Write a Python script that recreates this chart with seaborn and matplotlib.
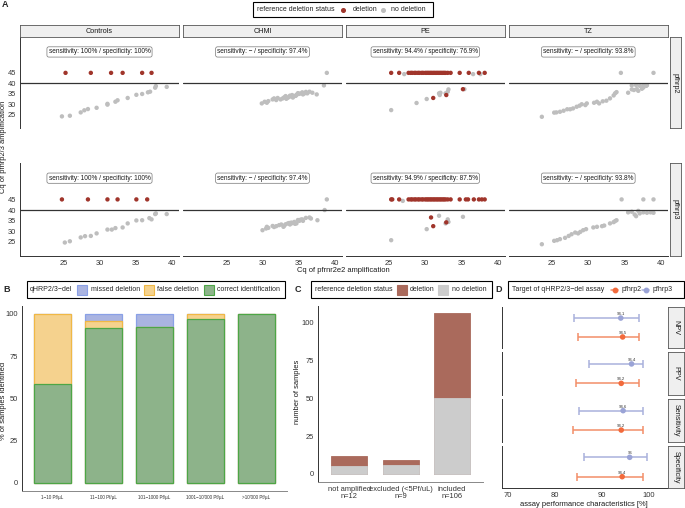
import numpy as np
import pandas as pd
import matplotlib
matplotlib.use("Agg")
import matplotlib.pyplot as plt
import seaborn as sns
from matplotlib.patches import Rectangle
from matplotlib.lines import Line2D

# ---------------- Panel A data (Cq of pfrnr2e2 vs Cq of pfhrp2/3) ----------------
ctrl2_del_x = [25.3, 28.8, 31.6, 33.2, 35.9, 37.2]
ctrl2_del_y = [45, 45, 45, 45, 45, 45]
ctrl2_nod_x = [24.8, 25.9, 27.4, 27.9, 28.4, 29.6, 31.1, 31.1, 32.2, 32.5, 33.9, 35.1, 35.9, 36.7, 37.0, 37.7, 37.8, 39.3]
ctrl2_nod_y = [24.2, 24.5, 26.1, 27.1, 27.7, 28.3, 30.2, 29.8, 31.2, 31.9, 33.0, 34.5, 34.9, 35.7, 36.0, 37.9, 38.7, 38.3]

ctrl3_del_x = [24.8, 28.4, 31.1, 32.5, 35.1, 36.6]
ctrl3_del_y = [45, 45, 45, 45, 45, 45]
ctrl3_nod_x = [25.2, 25.9, 27.4, 28.0, 28.8, 29.6, 31.1, 31.7, 32.2, 33.2, 33.9, 35.1, 35.9, 36.9, 37.2, 37.7, 37.8, 39.3]
ctrl3_nod_y = [24.7, 25.3, 27.1, 27.7, 27.8, 29.0, 30.8, 30.8, 31.5, 31.8, 33.7, 35.1, 35.2, 36.2, 35.6, 38.1, 38.4, 38.1]

chmi2_del_x = []
chmi2_del_y = []
chmi2_nod_x = [29.9, 30.3, 30.6, 31.4, 31.9, 32.1, 32.5, 33.0, 33.2, 33.5, 33.8, 34.1, 34.4, 34.7, 35.0, 35.5,
               35.6, 36.2, 36.5, 36.9, 37.5, 38.5, 38.9, 30.8, 31.6, 32.8, 33.3, 33.7, 34.2, 34.6, 34.9, 35.2, 35.8, 36.0]
chmi2_nod_y = [30.4, 31.2, 30.7, 32.3, 32.0, 33.0, 32.3, 33.3, 33.9, 33.1, 34.1, 34.4, 33.9, 34.5, 34.9, 35.7,
               34.7, 35.2, 36.0, 35.5, 34.7, 39.0, 45.0, 31.5, 32.8, 32.8, 32.6, 33.5, 33.2, 34.0, 35.3, 35.1, 35.2, 35.9]

chmi3_del_x = []
chmi3_del_y = []
chmi3_nod_x = [30.0, 30.5, 30.6, 31.4, 31.9, 32.3, 32.9, 33.2, 33.5, 33.8, 34.1, 34.4, 34.7, 35.1, 35.5, 35.6,
               36.5, 36.7, 37.6, 38.6, 38.9, 30.8, 31.6, 32.6, 33.0, 33.7, 34.0, 34.5, 34.9, 35.3, 36.0]
chmi3_nod_y = [30.5, 31.3, 32.1, 32.5, 32.4, 32.9, 32.1, 33.3, 33.7, 33.2, 33.8, 34.4, 33.7, 34.9, 35.6, 34.9,
               36.5, 36.0, 35.2, 40.0, 45.0, 31.6, 32.0, 33.2, 32.6, 33.9, 34.1, 33.5, 35.3, 35.5, 36.3]

pe2_del_x = [25.3, 26.4, 27.7, 28.0, 28.2, 28.5, 28.7, 29.0, 29.2, 29.5, 29.7, 30.0, 30.2, 30.4, 30.6, 30.8,
             31.0, 31.2, 31.4, 31.6, 31.8, 32.0, 32.2, 32.4, 32.6, 32.8, 33.1, 33.5, 34.75, 36.0, 37.4, 38.2,
             31.1, 32.9, 35.2]
pe2_del_y = [45, 45, 45, 45, 45, 45, 45, 45, 45, 45, 45, 45, 45, 45, 45, 45,
             45, 45, 45, 45, 45, 45, 45, 45, 45, 45, 45, 45, 45, 45, 45, 45,
             33.0, 34.4, 37.2]
pe2_nod_x = [27.1, 36.6, 37.6, 25.3, 28.8, 30.2, 31.9, 32.0, 32.1, 32.8, 33.1, 33.2, 35.4]
pe2_nod_y = [44.4, 44.4, 44.4, 27.2, 30.6, 32.5, 35.2, 34.4, 35.5, 35.2, 36.0, 37.1, 37.2]

pe3_del_x = [25.3, 25.45, 26.4, 27.7, 28.0, 28.2, 28.5, 28.7, 29.0, 29.2, 29.5, 29.7, 30.0, 30.2, 30.4, 30.6,
             30.8, 31.0, 31.2, 31.4, 31.6, 31.8, 32.0, 32.2, 32.4, 32.6, 32.8, 33.1, 33.5, 34.75, 35.6, 35.9,
             36.7, 37.4, 37.8, 38.2, 30.8, 31.1, 32.9]
pe3_del_y = [45, 45, 45, 45, 45, 45, 45, 45, 45, 45, 45, 45, 45, 45, 45, 45,
             45, 45, 45, 45, 45, 45, 45, 45, 45, 45, 45, 45, 45, 45, 45, 45,
             45, 45, 45, 45, 36.5, 32.4, 34.2]
pe3_nod_x = [26.9, 25.3, 30.2, 31.9, 32.8, 33.1, 33.2, 35.2]
pe3_nod_y = [44.3, 25.8, 31.0, 37.3, 33.7, 35.6, 34.4, 36.8]

tz2_del_x = []
tz2_del_y = []
tz2_nod_x = [23.6, 25.3, 25.6, 26.1, 26.6, 27.1, 27.5, 27.9, 28.4, 28.8, 29.1, 29.6, 29.8, 30.8, 31.2, 31.5,
             32.0, 32.5, 33.0, 33.5, 33.7, 33.9, 34.5, 35.5, 36.0, 36.3, 36.7, 36.9, 37.4, 37.6, 38.0, 38.1,
             39.0, 36.0, 36.6, 37.1, 37.6]
tz2_nod_y = [24.0, 26.0, 26.1, 26.4, 26.9, 27.6, 27.6, 28.0, 28.8, 29.3, 30.0, 29.6, 30.4, 30.7, 31.2, 30.4,
             31.4, 31.7, 32.8, 34.2, 35.2, 35.8, 45.0, 35.5, 37.1, 36.8, 37.2, 36.4, 37.4, 38.0, 38.8, 39.1,
             45.0, 39.0, 39.1, 38.8, 39.1]

tz3_del_x = []
tz3_del_y = []
tz3_nod_x = [23.6, 25.3, 25.7, 26.1, 26.8, 27.3, 27.7, 28.2, 28.6, 28.9, 29.3, 29.7, 30.7, 31.2, 31.9, 32.2,
             33.0, 33.5, 33.7, 33.9, 34.6, 35.5, 36.0, 36.4, 36.9, 37.1, 37.6, 38.1, 38.6, 39.0, 37.6, 39.0, 36.6]
tz3_nod_y = [23.9, 25.5, 25.8, 26.3, 26.9, 27.8, 28.6, 29.4, 29.0, 29.7, 30.5, 31.0, 31.8, 32.1, 32.4, 32.7,
             33.7, 34.3, 34.8, 35.2, 45.0, 38.9, 39.2, 37.9, 39.6, 38.4, 38.9, 38.7, 38.9, 38.7, 45.0, 45.0, 37.1]

a_panels = ["Controls", "CHMI", "PE", "TZ"]
a_genes = ["pfhrp2", "pfhrp3"]
ann_hrp2 = ["sensitivity: 100% / specificity: 100%", "sensitivity: \u2212 / specificity: 97.4%",
            "sensitivity: 94.4% / specificity: 76.9%", "sensitivity: \u2212 / specificity: 93.8%"]
ann_hrp3 = ["sensitivity: 100% / specificity: 100%", "sensitivity: \u2212 / specificity: 97.4%",
            "sensitivity: 94.9% / specificity: 87.5%", "sensitivity: \u2212 / specificity: 93.8%"]
a_xticks = [25, 30, 35, 40]
a_yticks = [25, 30, 35, 40, 45]

# ---------------- Panel B data ----------------
b_cats = ["1\u221210 Pf/\u00b5L", "11\u2212100 Pf/\u00b5L", "101\u22121000 Pf/\u00b5L",
          "1001\u221210'000 Pf/\u00b5L", ">10'000 Pf/\u00b5L"]
b_correct = [58.3, 91.5, 92.5, 96.9, 100.0]
b_false = [41.7, 4.25, 0.0, 3.1, 0.0]
b_missed = [0.0, 4.25, 7.5, 0.0, 0.0]

# ---------------- Panel C data ----------------
c_cats = ["not amplified\nn=12", "excluded (<5Pf/uL)\nn=9", "included\nn=106"]
c_nodel = [5, 6, 50]
c_del = [7, 3, 56]

# ---------------- Panel D data ----------------
d_metrics = ["NPV", "PPV", "Sensitivity", "Specificity"]
d_hrp3_est = [94.1, 96.4, 94.6, 96.0]
d_hrp3_lo = [84.2, 87.3, 85.2, 86.3]
d_hrp3_hi = [98.0, 98.9, 98.9, 99.6]
d_hrp2_est = [94.5, 94.2, 94.2, 94.4]
d_hrp2_lo = [85.0, 84.6, 84.0, 84.7]
d_hrp2_hi = [98.0, 98.0, 98.9, 98.9]

# ---------------- style ----------------
sns.set_theme(style="white")
plt.rcParams["font.family"] = ["Liberation Sans", "DejaVu Sans"]
plt.rcParams["axes.linewidth"] = 0.7

DEL_COL = "#A0352B"
NOD_COL = "#BEBEBE"
TXT = "#333333"
FS = 5.0
TICK_FS = 5.4

W, H = 685, 508
fig = plt.figure(figsize=(W / 100, H / 100), dpi=100)


def fx(x):
    return x / W


def fy(y):
    return 1 - y / H


def add_ax(l, t, r, b):
    return fig.add_axes([l / W, 1 - b / H, (r - l) / W, (b - t) / H])


def ftext(x, y, s, **kw):
    kw.setdefault("fontsize", FS)
    kw.setdefault("va", "center")
    fig.text(fx(x), fy(y), s, **kw)


def fbox(l, t, r, b, ec="black", fc="none", lw=0.8):
    fig.add_artist(Rectangle((fx(l), fy(b)), (r - l) / W, (b - t) / H, transform=fig.transFigure,
                             fill=(fc != "none"), facecolor=fc, edgecolor=ec, linewidth=lw))


def strip(l, t, r, b, text, rot=0):
    a = add_ax(l, t, r, b)
    a.set_facecolor("#EFEFEF")
    for s in a.spines.values():
        s.set_color("#555555")
        s.set_linewidth(0.6)
        s.set_visible(True)
    a.set_xticks([])
    a.set_yticks([])
    a.text(0.5, 0.5, text, ha="center", va="center", rotation=rot, fontsize=FS + 0.2,
           color="#1A1A1A", transform=a.transAxes)
    return a


def style_axes(ax, left=True, bottom=True):
    for s in ["top", "right"]:
        ax.spines[s].set_visible(False)
    ax.spines["left"].set_visible(left)
    ax.spines["bottom"].set_visible(bottom)
    for s in ["left", "bottom"]:
        ax.spines[s].set_color("#333333")
        ax.spines[s].set_linewidth(0.7)
    ax.tick_params(axis="both", length=2, width=0.5, color="#333333", labelsize=TICK_FS,
                   labelcolor=TXT, pad=1)
    ax.set_xlabel("")
    ax.set_ylabel("")


# ================= Panel A =================
A_data = {
    ("Controls", "pfhrp2"): (ctrl2_del_x, ctrl2_del_y, ctrl2_nod_x, ctrl2_nod_y),
    ("Controls", "pfhrp3"): (ctrl3_del_x, ctrl3_del_y, ctrl3_nod_x, ctrl3_nod_y),
    ("CHMI", "pfhrp2"): (chmi2_del_x, chmi2_del_y, chmi2_nod_x, chmi2_nod_y),
    ("CHMI", "pfhrp3"): (chmi3_del_x, chmi3_del_y, chmi3_nod_x, chmi3_nod_y),
    ("PE", "pfhrp2"): (pe2_del_x, pe2_del_y, pe2_nod_x, pe2_nod_y),
    ("PE", "pfhrp3"): (pe3_del_x, pe3_del_y, pe3_nod_x, pe3_nod_y),
    ("TZ", "pfhrp2"): (tz2_del_x, tz2_del_y, tz2_nod_x, tz2_nod_y),
    ("TZ", "pfhrp3"): (tz3_del_x, tz3_del_y, tz3_nod_x, tz3_nod_y),
}
frames = []
for (p, g), (dx, dy, nx, ny) in A_data.items():
    frames.append(pd.DataFrame({"panel": p, "gene": g, "x": nx, "y": ny, "status": "no deletion"}))
    if len(dx):
        frames.append(pd.DataFrame({"panel": p, "gene": g, "x": dx, "y": dy, "status": "deletion"}))
dfA = pd.concat(frames, ignore_index=True)

cols_px = [(20, 179), (183, 342), (345.5, 505), (508.5, 668)]
rows_px = [(37.3, 128.3), (163.3, 255.7)]
anns = [ann_hrp2, ann_hrp3]

for r, g in enumerate(a_genes):
    for c, p in enumerate(a_panels):
        ax = add_ax(cols_px[c][0], rows_px[r][0], cols_px[c][1], rows_px[r][1])
        sub = dfA[(dfA.panel == p) & (dfA.gene == g)]
        sub = pd.concat([sub[sub.status == "no deletion"], sub[sub.status == "deletion"]])
        sns.scatterplot(data=sub, x="x", y="y", hue="status",
                        palette={"deletion": DEL_COL, "no deletion": NOD_COL},
                        s=10, linewidth=0, legend=False, ax=ax)
        ax.axhline(40, color="#333333", lw=0.9)
        ax.set_xlim(19, 41)
        ax.set_ylim(18.5, 62)
        ax.text(30, 55, anns[r][c], ha="center", va="center", fontsize=4.7, color="#1A1A1A",
                bbox=dict(boxstyle="round,pad=0.25,rounding_size=0.3", fc="white", ec="#777777", lw=0.5))
        style_axes(ax, left=(c == 0), bottom=(r == 1))
        ax.set_facecolor("none")
        if c == 0:
            ax.set_yticks(a_yticks)
        else:
            ax.set_yticks([])
        if r == 1:
            ax.set_xticks(a_xticks)
        else:
            ax.set_xticks([])
        if r == 0:
            strip(cols_px[c][0], 25, cols_px[c][1], 37.3, p)
    strip(669.5, rows_px[r][0], 681.5, rows_px[r][1], g, rot=-90)

ftext(3.5, 147, "Cq of pfhrp2/3 amplification", rotation=90, ha="center", color="#1A1A1A", fontsize=5.4)
ftext(343, 271, "Cq of pfrnr2e2 amplification", ha="center", color="#1A1A1A", fontsize=5.4)
ftext(2, 4.5, "A", fontsize=6.5, fontweight="bold", ha="left")

# legend A
fbox(253.3, 1.7, 432.7, 17.3)
ftext(256.7, 9.5, "reference deletion status", ha="left")
fig.add_artist(Line2D([fx(343.3)], [fy(9.5)], marker="o", ms=2.6, color=DEL_COL, lw=0,
                      transform=fig.transFigure))
ftext(352.7, 9.5, "deletion", ha="left")
fig.add_artist(Line2D([fx(382.7)], [fy(9.5)], marker="o", ms=2.6, color=NOD_COL, lw=0,
                      transform=fig.transFigure))
ftext(390.7, 9.5, "no deletion", ha="left")

# ================= Panel B =================
GR_FC, GR_EC = "#8DB38A", "#4DA646"
OR_FC, OR_EC = "#F5D28E", "#F0B845"
BL_FC, BL_EC = "#AAB4E1", "#8AA0E6"

axB = add_ax(21.7, 305.5, 287, 491)
cum_false = [a + b for a, b in zip(b_correct, b_false)]
cum_missed = [a + b for a, b in zip(cum_false, b_missed)]
for vals, fc, ec in [(cum_missed, BL_FC, BL_EC), (cum_false, OR_FC, OR_EC), (b_correct, GR_FC, GR_EC)]:
    sns.barplot(x=b_cats, y=vals, color=fc, edgecolor=ec, linewidth=0.9, width=0.72,
                saturation=1, errorbar=None, ax=axB)
axB.set_xlim(-0.6, 4.6)
axB.set_ylim(-4.8, 105)
axB.set_yticks([0, 25, 50, 75, 100])
style_axes(axB)
axB.tick_params(axis="x", labelsize=3.3)
axB.spines["bottom"].set_color("#888888")
ftext(3.5, 401, "% of samples identified", rotation=90, ha="center", color="#1A1A1A", fontsize=5.4)
ftext(3.3, 290, "B", fontsize=6.5, fontweight="bold", ha="left")

fbox(26.7, 281, 285, 298.3)
ftext(30, 289.7, "qHRP2/3\u2212del", ha="left")
for (l, fc, ec, lab, tx) in [(77.3, BL_FC, BL_EC, "missed deletion", 90.7),
                             (144, OR_FC, OR_EC, "false deletion", 157.3),
                             (204, GR_FC, GR_EC, "correct identification", 217.3)]:
    fbox(l, 285, l + 10, 295, ec=ec, fc=fc, lw=0.8)
    ftext(tx, 289.7, lab, ha="left")

# ================= Panel C =================
BR_FC = "#AA6A5C"
GY_FC = "#CCCCCC"
axC = add_ax(318.3, 305.7, 483, 482)
c_total = [a + b for a, b in zip(c_nodel, c_del)]
sns.barplot(x=c_cats, y=c_total, color=BR_FC, edgecolor=BR_FC, linewidth=0.6, width=0.705,
            saturation=1, errorbar=None, ax=axC)
sns.barplot(x=c_cats, y=c_nodel, color=GY_FC, edgecolor=GY_FC, linewidth=0.6, width=0.705,
            saturation=1, errorbar=None, ax=axC)
axC.set_xlim(-0.6, 2.6)
axC.set_ylim(-5.3, 111.1)
axC.set_yticks([0, 25, 50, 75, 100])
style_axes(axC)
for t in axC.get_xticklabels():
    t.set_linespacing(1.0)
axC.spines["bottom"].set_color("#888888")
ftext(297.7, 392, "number of samples", rotation=90, ha="center", color="#1A1A1A", fontsize=5.4)
ftext(297.7, 290, "C", fontsize=6.5, fontweight="bold", ha="center")

fbox(311, 281, 491.7, 298.3)
ftext(315, 289.7, "reference deletion status", ha="left")
fbox(396.7, 285, 406.7, 295, ec=BR_FC, fc=BR_FC)
ftext(410, 289.7, "deletion", ha="left")
fbox(438.3, 285, 448.3, 295, ec=GY_FC, fc=GY_FC)
ftext(451.7, 289.7, "no deletion", ha="left")

# ================= Panel D =================
OR_PT, OR_LN = "#F26A3C", "#F38E68"
BL_PT, BL_LN = "#9AA3D6", "#A9B1DC"
d_tops = [306.7, 352.3, 399, 445.7]
d_bots = [348.3, 395, 441.7, 488.3]
ypos = {"pfhrp3": 0, "pfhrp2": 1}
for i, m in enumerate(d_metrics):
    ax = add_ax(501.7, d_tops[i], 666.7, d_bots[i])
    dfD = pd.DataFrame({"target": ["pfhrp3", "pfhrp2"],
                        "est": [d_hrp3_est[i], d_hrp2_est[i]],
                        "lo": [d_hrp3_lo[i], d_hrp2_lo[i]],
                        "hi": [d_hrp3_hi[i], d_hrp2_hi[i]]})
    dfD["pos"] = dfD["target"].map(ypos)
    for _, row in dfD.iterrows():
        lc = BL_LN if row.target == "pfhrp3" else OR_LN
        ax.errorbar(row.est, row.pos, xerr=[[row.est - row.lo], [row.hi - row.est]], fmt="none",
                    ecolor=lc, elinewidth=1.1, capsize=2.8, capthick=1.1, zorder=2)
        ax.text(row.est, row.pos - 0.2, f"{row.est:g}", ha="center", va="center", fontsize=3.1,
                color="#333333", zorder=4)
    sns.scatterplot(data=dfD, x="est", y="pos", hue="target",
                    palette={"pfhrp2": OR_PT, "pfhrp3": BL_PT}, s=16, linewidth=0,
                    legend=False, ax=ax, zorder=3)
    ax.set_xlim(68.7, 103.9)
    ax.set_ylim(1.6, -0.6)
    style_axes(ax, left=True, bottom=(i == 3))
    ax.set_facecolor("none")
    ax.set_yticks([0, 1])
    ax.set_yticklabels([])
    if i == 3:
        ax.set_xticks([70, 80, 90, 100])
    else:
        ax.set_xticks([])
    strip(668, d_tops[i], 684, d_bots[i], m, rot=-90)

ftext(584, 504, "assay performance characteristics [%]", ha="center", color="#1A1A1A", fontsize=5.4)
ftext(498.3, 290, "D", fontsize=6.5, fontweight="bold", ha="center")

fbox(508.3, 281, 684.3, 298.3)
ftext(512.3, 289.7, "Target of qHRP2/3\u2212del assay", ha="left")
for (cx, pc, lc, lab) in [(614.7, OR_PT, OR_LN, "pfhrp2"), (645.7, BL_PT, BL_LN, "pfhrp3")]:
    fig.add_artist(Line2D([fx(cx - 3.7), fx(cx + 3.7)], [fy(289.7), fy(289.7)], color=lc, lw=1.1,
                          transform=fig.transFigure))
    fig.add_artist(Line2D([fx(cx)], [fy(289.7)], marker="o", ms=3.2, color=pc, lw=0,
                          transform=fig.transFigure))
    ftext(cx + 7, 289.7, lab, ha="left")

fig.savefig("out.png", dpi=100)
